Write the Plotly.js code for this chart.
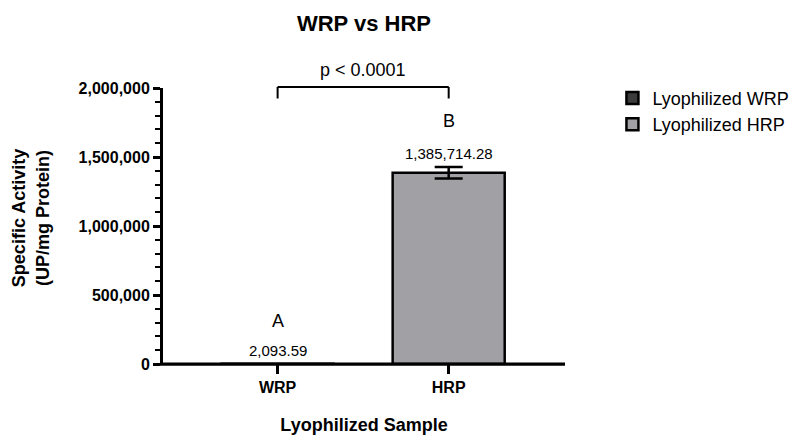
<!DOCTYPE html>
<html>
<head>
<meta charset="utf-8">
<script src="https://cdn.plot.ly/plotly-3.0.1.min.js"></script>
<style>html,body{margin:0;padding:0;background:#fff;}#chart{width:795px;height:435px;}</style>
</head>
<body>
<div id="chart"></div>
<script>
const categories = ['WRP', 'HRP'];
const legendNames = ['Lyophilized WRP', 'Lyophilized HRP'];
const values = [2093.59, 1385714.28];
const errors = [0, 42000];
const valueLabels = ['2,093.59', '1,385,714.28'];
const groupLetters = ['A', 'B'];
const pLabel = 'p < 0.0001';
const yTickVals = [0, 500000, 1000000, 1500000, 2000000];
const yTickText = ['0', '500,000', '1,000,000', '1,500,000', '2,000,000'];
const barColors = ['#3c3c3c', '#a1a0a5'];

const FONT = 'Liberation Sans, Arial, sans-serif';

const traces = categories.map((c, i) => ({
  type: 'bar',
  x: [c],
  y: [values[i]],
  name: legendNames[i],
  width: 0.655,
  marker: {color: barColors[i], line: {color: '#000', width: 2.5}},
  error_y: {type: 'data', array: [errors[i]], visible: errors[i] > 0, color: '#000', thickness: 2.5, width: 14},
  hoverinfo: 'skip'
}));

const letterShift = [31, 34];
const annotations = [];
categories.forEach((c, i) => {
  annotations.push({
    x: c, y: values[i] + errors[i], xref: 'x', yref: 'y',
    text: valueLabels[i], showarrow: false, yanchor: 'bottom', yshift: 3,
    font: {family: FONT, size: 15, color: '#000'}
  });
  annotations.push({
    x: c, y: values[i] + errors[i], xref: 'x', yref: 'y',
    text: groupLetters[i], showarrow: false, yanchor: 'bottom', yshift: letterShift[i],
    font: {family: FONT, size: 18, color: '#000'}
  });
});
annotations.push({
  x: 0.5, y: 1.065, xref: 'x', yref: 'paper', text: pLabel, showarrow: false,
  yanchor: 'middle', font: {family: FONT, size: 18, color: '#000'}
});
annotations.push({
  x: -0.328, y: 0.529, xref: 'paper', yref: 'paper', xanchor: 'center', yanchor: 'middle',
  text: '<b>Specific Activity<br>(UP/mg Protein)</b>', textangle: -90, showarrow: false,
  font: {family: FONT, size: 18, color: '#000'}
});

const shapes = [
  {type: 'line', xref: 'x', yref: 'paper', x0: categories[0], x1: categories[0], y0: 0.962, y1: 1.004, line: {color: '#000', width: 2}},
  {type: 'line', xref: 'x', yref: 'paper', x0: categories[0], x1: categories[1], y0: 1.004, y1: 1.004, line: {color: '#000', width: 2}},
  {type: 'line', xref: 'x', yref: 'paper', x0: categories[1], x1: categories[1], y0: 0.962, y1: 1.004, line: {color: '#000', width: 2}},
  // x-axis baseline drawn above the bars so the near-zero WRP outline merges into it
  {type: 'line', layer: 'above', xref: 'paper', yref: 'paper', x0: -0.0075, x1: 1, y0: -0.0005, y1: -0.0005, line: {color: '#000', width: 3.2}}
];

const layout = {
  width: 795, height: 435,
  margin: {l: 163, r: 230, t: 88, b: 71, pad: 0, autoexpand: false},
  paper_bgcolor: '#fff', plot_bgcolor: '#fff',
  barmode: 'overlay',
  showlegend: true,
  title: {text: '<b>WRP vs HRP</b>', x: 0.5, xref: 'paper', xanchor: 'center', y: 0.947, yref: 'container', yanchor: 'middle',
    font: {family: FONT, size: 22, color: '#000'}},
  xaxis: {
    type: 'category', range: [-0.67, 1.68], showgrid: false, zeroline: false,
    showline: false,
    ticks: 'outside', ticklen: 9, tickwidth: 3, tickcolor: '#000',
    tickfont: {family: FONT, size: 16, color: '#000', weight: 'bold'},
    title: {text: '<b>Lyophilized Sample</b>', font: {family: FONT, size: 18, color: '#000'}, standoff: 30},
    fixedrange: true
  },
  yaxis: {
    range: [0, 2000000], showgrid: false, zeroline: false,
    showline: true, linecolor: '#000', linewidth: 3,
    tickvals: yTickVals, ticktext: yTickText,
    ticks: 'outside', ticklen: 7, tickwidth: 3, tickcolor: '#000',
    minor: {dtick: 100000, ticks: 'outside', ticklen: 5, tickwidth: 2, tickcolor: '#000'},
    tickfont: {family: FONT, size: 16, color: '#000', weight: 'bold'},
    fixedrange: true
  },
  legend: {
    x: 1.118, y: 1.03, xanchor: 'left', yanchor: 'top',
    font: {family: FONT, size: 18, color: '#000'},
    traceorder: 'normal', bgcolor: 'rgba(0,0,0,0)', tracegroupgap: 0
  },
  annotations: annotations,
  shapes: shapes
};

Plotly.newPlot('chart', traces, layout, {staticPlot: true, displayModeBar: false});
</script>
</body>
</html>
